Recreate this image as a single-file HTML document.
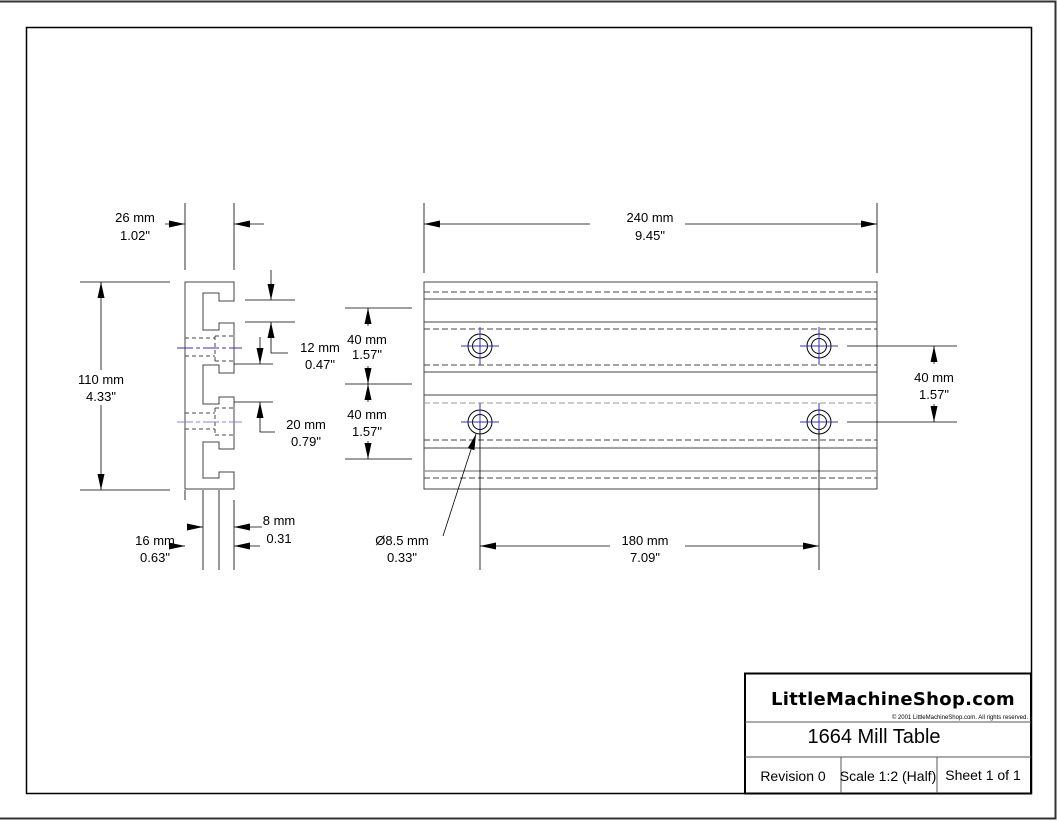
<!DOCTYPE html>
<html><head><style>
html,body{margin:0;padding:0;background:#fff;}
svg{display:block;font-family:"Liberation Sans",Arial,sans-serif;}
</style></head><body>
<svg width="1057" height="821" viewBox="0 0 1057 821" xmlns="http://www.w3.org/2000/svg">
<defs>
<marker id="a" viewBox="0 0 16 8" refX="16" refY="4" markerWidth="16" markerHeight="8" markerUnits="userSpaceOnUse" orient="auto-start-reverse"><path d="M0,0.5 L16,4 L0,7.5 z" fill="#000"/></marker>
</defs>
<rect x="0" y="0" width="1057" height="821" fill="#fff"/>
<path d="M0,1.5 H1055.5 V818.5 H0" fill="none" stroke="#333" stroke-width="2"/>
<rect x="26.5" y="27.5" width="1005" height="766" fill="none" stroke="#000" stroke-width="1.5"/>

<g stroke="#444" stroke-width="1" fill="none">
<path d="M185,282 H234 V301 H219 V293 H203 V330 H219 V323 H234 V373 H219 V365 H203 V404 H219 V397 H234 V449 H219 V442 H203 V478 H219 V472 H234 V489 H185 Z"/>
<g stroke-dasharray="4,3">
<path d="M185,338 H215 M185,356 H215 M215,336 V361 M215,336 H234 M215,361 H234"/>
<path d="M185,413 H215 M185,429 H215 M215,408 V435 M215,408 H234 M215,435 H234"/>
</g>
</g>
<g stroke="#3333aa" stroke-width="1"><path d="M177,348 H242" stroke-dasharray="16,3,4,3"/><path d="M177,422 H242" stroke="#8888cc" stroke-dasharray="16,3,4,3"/></g>

<g fill="none" stroke-width="1">
<rect x="424" y="282" width="453" height="207" stroke="#444"/>
<g stroke="#444"><path d="M424,299 H877 M424,322 H877 M424,372 H877 M424,395 H877 M424,448 H877"/><path d="M424,471 H877" stroke="#999" stroke-width="1.5"/></g>
<g stroke="#444" stroke-dasharray="6,3"><path d="M424,292 H877 M424,329 H877 M424,365 H877 M424,440 H877 M424,478 H877"/><path d="M424,403 H877" stroke="#999"/></g>
<g stroke="#000">
<circle cx="480" cy="346" r="12"/><circle cx="480" cy="346" r="7.5"/>
<circle cx="819" cy="346" r="12"/><circle cx="819" cy="346" r="7.5"/>
<circle cx="480" cy="422" r="12"/><circle cx="480" cy="422" r="7.5"/>
<circle cx="819" cy="422" r="12"/><circle cx="819" cy="422" r="7.5"/>
</g>
<g stroke="#3333aa"><path d="M461,346 H499 M480,327 V365 M800,346 H838 M819,327 V365 M461,422 H499 M480,403 V441 M800,422 H838 M819,403 V441"/></g>
</g>

<g stroke="#000" stroke-width="0.8" fill="none">
<path d="M185,203 V270 M234,203 V270"/>
<path d="M165,224 H185" marker-end="url(#a)"/><path d="M264,224 H234" marker-end="url(#a)"/>
<path d="M80,282 H170 M80,490 H170"/>
<path d="M101,370 V282" marker-end="url(#a)"/><path d="M101,405 V490" marker-end="url(#a)"/>
<path d="M245,300 H295 M245,322 H295"/>
<path d="M271,270 V300" marker-end="url(#a)"/><path d="M288,353 H271 V322" marker-end="url(#a)"/>
<path d="M234,364 H273 M234,402 H273"/>
<path d="M260,337 V364" marker-end="url(#a)"/><path d="M275,432 H260 V402" marker-end="url(#a)"/>
<path d="M203,490 V570 M219,490 V570 M234,500 V570 M185,490 V500"/>
<path d="M188,527 H203" marker-end="url(#a)"/><path d="M262,527 H234" marker-end="url(#a)"/>
<path d="M170,546 H185" marker-end="url(#a)"/><path d="M260,546 H234" marker-end="url(#a)"/>
<path d="M424,203 V273 M877,203 V273"/>
<path d="M590,224 H424" marker-end="url(#a)"/><path d="M685,224 H877" marker-end="url(#a)"/>
<path d="M345,308 H412 M345,384 H412 M345,459 H412"/>
<path d="M368,326 V308" marker-end="url(#a)"/><path d="M368,366 V384" marker-end="url(#a)"/>
<path d="M368,402 V384" marker-end="url(#a)"/><path d="M368,441 V459" marker-end="url(#a)"/>
<path d="M847,346 H957 M847,422 H957"/>
<path d="M934,364 V346" marker-end="url(#a)"/><path d="M934,404 V422" marker-end="url(#a)"/>
<path d="M480,430 V570 M819,430 V570"/>
<path d="M610,546 H480" marker-end="url(#a)"/><path d="M685,546 H819" marker-end="url(#a)"/>
<path d="M443,536 L476,434" marker-end="url(#a)"/>
</g>

<g font-size="13" fill="#000" text-anchor="middle">
<text x="135" y="222">26 mm</text><text x="135" y="240">1.02"</text>
<text x="101" y="384">110 mm</text><text x="101" y="401">4.33"</text>
<text x="320" y="352">12 mm</text><text x="320" y="369">0.47"</text>
<text x="306" y="429">20 mm</text><text x="306" y="446">0.79"</text>
<text x="279" y="525">8 mm</text><text x="279" y="543">0.31</text>
<text x="155" y="545">16 mm</text><text x="155" y="562">0.63"</text>
<text x="650" y="222">240 mm</text><text x="650" y="240">9.45"</text>
<text x="367" y="344">40 mm</text><text x="367" y="359">1.57"</text>
<text x="367" y="419">40 mm</text><text x="367" y="436">1.57"</text>
<text x="934" y="382">40 mm</text><text x="934" y="399">1.57"</text>
<text x="645" y="545">180 mm</text><text x="645" y="562">7.09"</text>
<text x="402" y="545">Ø8.5 mm</text><text x="402" y="562">0.33"</text>
</g>

<rect x="745" y="673.5" width="286" height="120" fill="#fff" stroke="#000" stroke-width="2"/>
<g stroke="#555" stroke-width="1"><path d="M745,722 H1031 M745,757 H1031 M841,757 V793 M937,757 V793"/></g>
<text x="893" y="705" text-anchor="middle" font-size="18" font-weight="bold" style="font-family:'DejaVu Sans','Liberation Sans',sans-serif" letter-spacing="0.3">LittleMachineShop.com</text>
<text x="1028" y="719" text-anchor="end" font-size="6">© 2001 LittleMachineShop.com. All rights reserved.</text>
<text x="874" y="743" text-anchor="middle" font-size="20">1664 Mill Table</text>
<g font-size="14" text-anchor="middle"><text x="793" y="781">Revision 0</text><text x="888" y="781">Scale 1:2 (Half)</text><text x="983" y="780">Sheet 1 of 1</text></g>
</svg>
</body></html>
